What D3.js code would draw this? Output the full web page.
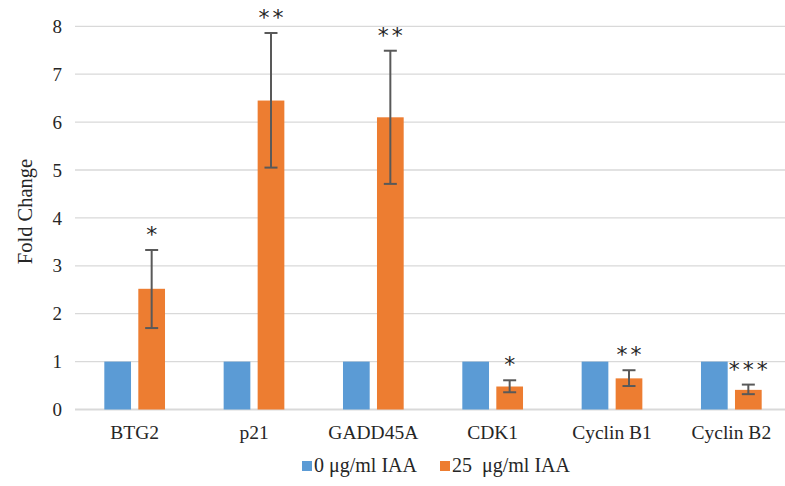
<!DOCTYPE html>
<html>
<head>
<meta charset="utf-8">
<script src="https://cdn.jsdelivr.net/npm/d3@7"></script>
<style>
  body { margin: 0; background: #fff; }
  text { font-family: "Liberation Serif", "Times New Roman", serif; fill: #262626; }
</style>
</head>
<body>
<div id="chart"></div>
<script>
const width = 785;
const height = 486;

const genes = ["BTG2", "p21", "GADD45A", "CDK1", "Cyclin B1", "Cyclin B2"];
const series = ["0 \u03bcg/ml IAA", "25  \u03bcg/ml IAA"];
const control = [1, 1, 1, 1, 1, 1];
const treated = [2.52, 6.45, 6.1, 0.48, 0.65, 0.41];
const errLow = [1.70, 5.05, 4.71, 0.36, 0.49, 0.32];
const errHigh = [3.33, 7.86, 7.49, 0.61, 0.82, 0.52];
const stars = ["*", "**", "**", "*", "**", "***"];
const yTicks = [0, 1, 2, 3, 4, 5, 6, 7, 8];
const colors = ["#5B9BD5", "#ED7D31"];

const svg = d3.select("#chart")
    .append("svg")
    .attr("width", width)
    .attr("height", height);

const x = d3.scaleBand()
    .domain(genes)
    .range([75, 791])
    .paddingInner(0)
    .paddingOuter(0);

const y = d3.scaleLinear()
    .domain([0, 8])
    .range([409.5, 26.3]);

const barW = 26.7, gap = 7.3;

// gridlines
svg.append("g")
    .selectAll("line")
    .data(yTicks)
    .join("line")
    .attr("x1", 75)
    .attr("x2", width)
    .attr("y1", d => y(d))
    .attr("y2", d => y(d))
    .attr("stroke", "#d9d9d9")
    .attr("stroke-width", d => d === 0 ? 2 : 1.3);

// y tick labels
svg.append("g")
    .selectAll("text")
    .data(yTicks)
    .join("text")
    .attr("x", 62)
    .attr("y", d => y(d))
    .attr("dy", "0.35em")
    .attr("text-anchor", "end")
    .style("font-size", "19px")
    .text(d => d);

svg.append("text")
    .attr("transform", "translate(32,211.5) rotate(-90)")
    .attr("text-anchor", "middle")
    .style("font-size", "20.5px")
    .text("Fold Change");

const groupLeft = g => x(g) + x.bandwidth() / 2 - barW - gap / 2;

// control bars
svg.append("g")
    .selectAll("rect")
    .data(genes)
    .join("rect")
    .attr("x", g => groupLeft(g))
    .attr("width", barW)
    .attr("y", (g, i) => y(control[i]))
    .attr("height", (g, i) => y(0) - y(control[i]))
    .attr("fill", colors[0]);

// treated bars
svg.append("g")
    .selectAll("rect")
    .data(genes)
    .join("rect")
    .attr("x", g => groupLeft(g) + barW + gap)
    .attr("width", barW)
    .attr("y", (g, i) => y(treated[i]))
    .attr("height", (g, i) => y(0) - y(treated[i]))
    .attr("fill", colors[1]);

// error bars
const cx = g => groupLeft(g) + barW * 1.5 + gap;
const err = svg.append("g")
    .attr("stroke", "#595959")
    .attr("stroke-width", 2);
genes.forEach((g, i) => {
    err.append("line")
        .attr("x1", cx(g)).attr("x2", cx(g))
        .attr("y1", y(errLow[i])).attr("y2", y(errHigh[i]));
    [errLow[i], errHigh[i]].forEach(v => {
        err.append("line")
            .attr("x1", cx(g) - 6.5).attr("x2", cx(g) + 6.5)
            .attr("y1", y(v)).attr("y2", y(v));
    });
});

// significance stars
svg.append("g")
    .selectAll("text")
    .data(genes)
    .join("text")
    .attr("x", g => cx(g) + 1.5)
    .attr("y", (g, i) => y(errHigh[i]) - 8)
    .attr("text-anchor", "middle")
    .style("font-family", "'DejaVu Sans', sans-serif")
    .style("font-size", "22px")
    .style("letter-spacing", "3px")
    .text((g, i) => stars[i]);

// category labels
svg.append("g")
    .selectAll("text")
    .data(genes)
    .join("text")
    .attr("x", g => x(g) + x.bandwidth() / 2)
    .attr("y", 439)
    .attr("text-anchor", "middle")
    .style("font-size", "19.5px")
    .text(g => g);

// legend
const legendX = [302, 440];
const legend = svg.append("g")
    .selectAll("g")
    .data(series)
    .join("g")
    .attr("transform", (d, i) => `translate(${legendX[i]},461)`);
legend.append("rect")
    .attr("width", 10)
    .attr("height", 10)
    .attr("fill", (d, i) => colors[i]);
legend.append("text")
    .attr("x", 12)
    .attr("y", 11)
    .style("font-size", "20px")
    .attr("xml:space", "preserve")
    .text(d => d);
</script>
</body>
</html>
